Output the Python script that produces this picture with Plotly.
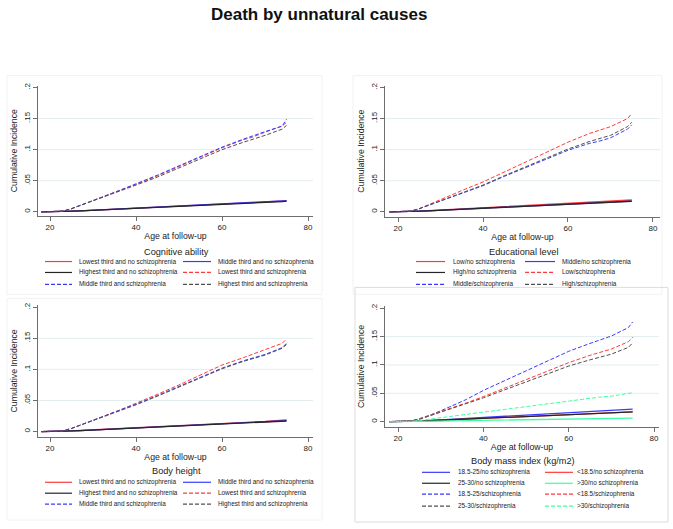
import plotly.graph_objects as go

# ---------------- data ----------------
ages = [18, 21, 23, 25, 27, 30, 33, 36, 40, 45, 50, 55, 60, 65, 67, 70, 74, 75]

# Cognitive ability
cog_low_no = [0, 0, 0.0003, 0.001, 0.0015, 0.0025, 0.0035, 0.0045, 0.006, 0.0075, 0.009, 0.0105, 0.012, 0.0135, 0.014, 0.015, 0.0165, 0.0175]
cog_mid_no = [0, 0, 0.0003, 0.001, 0.0016, 0.0026, 0.0036, 0.0046, 0.006, 0.0076, 0.0091, 0.0106, 0.012, 0.0136, 0.0142, 0.0152, 0.0166, 0.0178]
cog_high_no = [0, 0, 0.0003, 0.001, 0.0015, 0.0024, 0.0034, 0.0044, 0.0058, 0.0073, 0.0088, 0.0103, 0.0118, 0.0133, 0.0139, 0.0148, 0.0163, 0.0172]
cog_low_s = [0, 0, 0.001, 0.005, 0.010, 0.018, 0.026, 0.034, 0.044, 0.058, 0.073, 0.088, 0.103, 0.116, 0.120, 0.128, 0.138, 0.144]
cog_mid_s = [0, 0, 0.001, 0.005, 0.010, 0.018, 0.026, 0.034, 0.045, 0.059, 0.074, 0.089, 0.104, 0.117, 0.122, 0.129, 0.138, 0.149]
cog_high_s = [0, 0, 0.001, 0.005, 0.010, 0.017, 0.025, 0.033, 0.043, 0.056, 0.071, 0.086, 0.100, 0.112, 0.116, 0.123, 0.133, 0.139]

# Educational level
edu_low_no = [0, 0, 0.0003, 0.001, 0.0017, 0.0028, 0.004, 0.005, 0.0066, 0.0083, 0.0099, 0.0115, 0.0131, 0.0147, 0.0155, 0.0165, 0.018, 0.019]
edu_mid_no = [0, 0, 0.0003, 0.001, 0.0015, 0.0025, 0.0036, 0.0046, 0.006, 0.0075, 0.009, 0.0105, 0.012, 0.0134, 0.014, 0.015, 0.0164, 0.0172]
edu_high_no = [0, 0, 0.0003, 0.001, 0.0015, 0.0024, 0.0035, 0.0045, 0.0058, 0.0073, 0.0088, 0.0103, 0.0118, 0.0132, 0.0138, 0.0148, 0.0162, 0.017]
edu_low_s = [0, 0, 0.001, 0.005, 0.011, 0.019, 0.028, 0.037, 0.048, 0.064, 0.080, 0.096, 0.112, 0.126, 0.130, 0.137, 0.150, 0.158]
edu_mid_s = [0, 0, 0.001, 0.005, 0.010, 0.017, 0.025, 0.033, 0.042, 0.057, 0.071, 0.085, 0.099, 0.110, 0.113, 0.119, 0.133, 0.140]
edu_high_s = [0, 0, 0.001, 0.005, 0.010, 0.017, 0.025, 0.033, 0.043, 0.058, 0.072, 0.087, 0.101, 0.113, 0.117, 0.123, 0.137, 0.144]

# Body height
hgt_low_no = [0, 0, 0.0003, 0.001, 0.0017, 0.0028, 0.0039, 0.005, 0.0065, 0.0081, 0.0097, 0.0113, 0.0129, 0.0145, 0.0152, 0.0162, 0.0178, 0.0187]
hgt_mid_no = [0, 0, 0.0003, 0.001, 0.0016, 0.0026, 0.0036, 0.0046, 0.006, 0.0076, 0.0091, 0.0106, 0.012, 0.0135, 0.0141, 0.0151, 0.0166, 0.0175]
hgt_high_no = [0, 0, 0.0003, 0.001, 0.0015, 0.0025, 0.0035, 0.0045, 0.0059, 0.0074, 0.0089, 0.0104, 0.0119, 0.0133, 0.0139, 0.0148, 0.0162, 0.017]
hgt_low_s = [0, 0, 0.001, 0.005, 0.010, 0.018, 0.026, 0.034, 0.045, 0.060, 0.075, 0.091, 0.107, 0.119, 0.124, 0.131, 0.142, 0.149]
hgt_mid_s = [0, 0, 0.001, 0.005, 0.010, 0.018, 0.026, 0.034, 0.044, 0.058, 0.073, 0.088, 0.102, 0.114, 0.118, 0.124, 0.135, 0.142]
hgt_high_s = [0, 0, 0.001, 0.005, 0.010, 0.017, 0.025, 0.033, 0.043, 0.057, 0.072, 0.087, 0.101, 0.113, 0.117, 0.123, 0.134, 0.140]

# Body mass index
bmi_normal_no = [0, 0, 0.0003, 0.001, 0.0018, 0.003, 0.0045, 0.006, 0.0078, 0.0098, 0.0118, 0.0138, 0.0158, 0.0178, 0.0186, 0.0196, 0.021, 0.022]
bmi_under_no = [0, 0, 0.0003, 0.001, 0.0015, 0.0025, 0.0035, 0.0045, 0.0059, 0.0074, 0.0089, 0.0104, 0.0119, 0.0134, 0.014, 0.0149, 0.0163, 0.0172]
bmi_over_no = [0, 0, 0.0003, 0.001, 0.0015, 0.0025, 0.0035, 0.0046, 0.006, 0.0075, 0.009, 0.0105, 0.012, 0.0135, 0.0141, 0.015, 0.0164, 0.0172]
bmi_obese_no = [0, 0, 0.0001, 0.0003, 0.0006, 0.001, 0.0014, 0.0018, 0.0023, 0.003, 0.0036, 0.0042, 0.0048, 0.0053, 0.0055, 0.0057, 0.006, 0.0062]
bmi_normal_s = [0, 0, 0.001, 0.005, 0.010, 0.019, 0.029, 0.039, 0.055, 0.072, 0.089, 0.106, 0.124, 0.138, 0.143, 0.151, 0.166, 0.176]
bmi_under_s = [0, 0, 0.001, 0.005, 0.010, 0.017, 0.025, 0.033, 0.044, 0.059, 0.074, 0.089, 0.104, 0.117, 0.121, 0.128, 0.141, 0.149]
bmi_over_s = [0, 0, 0.001, 0.004, 0.009, 0.016, 0.024, 0.032, 0.042, 0.056, 0.070, 0.084, 0.098, 0.109, 0.113, 0.119, 0.131, 0.139]
bmi_obese_s = [0, 0, 0.0005, 0.002, 0.004, 0.007, 0.009, 0.012, 0.016, 0.021, 0.026, 0.031, 0.037, 0.042, 0.043, 0.045, 0.049, 0.051]

x_tickvals = [20, 40, 60, 80]
y_tickvals = [0, 0.05, 0.1, 0.15, 0.2]
y_ticktext = ["0", ".05", ".1", ".15", ".2"]
grid_vals = [0.05, 0.1, 0.15]

chart_title = "Death by unnatural causes"
x_title = "Age at follow-up"
y_title = "Cumulative Incidence"

cog_labels = ["Lowest third and no schizophrenia", "Middle third and no schizophrenia",
              "Highest third and no schizophrenia", "Lowest third and schizophrenia",
              "Middle third and schizophrenia", "Highest third and schizophrenia"]
edu_labels = ["Low/no schizophrenia", "Middle/no schizophrenia", "High/no schizophrenia",
              "Low/schizophrenia", "Middle/schizophrenia", "High/schizophrenia"]
hgt_labels = cog_labels
bmi_labels = ["18.5-25/no schizophrenia", "<18.5/no schizophrenia", "25-30/no schizophrenia",
              ">30/no schizophrenia", "18.5-25/schizophrenia", "<18.5/schizophrenia",
              "25-30/schizophrenia", ">30/schizophrenia"]

# ---------------- styles / layout ----------------
W, H = 673, 529
FONT = "Arial, Liberation Sans, sans-serif"
RED = "#ff3a3a"
BLUE = "#3a3aff"
BLACK = "#262626"
GRAY = "#505050"
GREEN = "#3dffa0"
DASH = "4px,2px"
AXC = "#6e6e6e"
GRIDC = "#e3edef"
TXT = "#222222"


def fx(px):
    return px / W


def fy(py):
    return 1 - py / H


six_styles = [(RED, "solid", 1.3), (BLUE, "solid", 1.3), (BLACK, "solid", 1.3),
              (RED, "dash", 1.0), (BLUE, "dash", 1.0), (GRAY, "dash", 1.0)]
bmi_styles = [(BLUE, "solid", 1.3), (RED, "solid", 1.3), (BLACK, "solid", 1.3), (GREEN, "solid", 1.3),
              (BLUE, "dash", 1.0), (RED, "dash", 1.0), (GRAY, "dash", 1.0), (GREEN, "dash", 1.0)]

panels = [
    dict(series=[cog_low_no, cog_mid_no, cog_high_no, cog_low_s, cog_mid_s, cog_high_s],
         labels=cog_labels, styles=six_styles, legend_title="Cognitive ability",
         xd=(38, 313), xr=(17.21, 81.16), yd=(83, 214), yr=(-0.0064, 0.2032),
         box=(7, 73, 322, 293), boxc="#f2f2f2",
         ltitle=(176, 250), rows=[260, 271, 283],
         cols=[(45, 72, 77), (183, 211, 216)]),
    dict(series=[edu_low_no, edu_mid_no, edu_high_no, edu_low_s, edu_mid_s, edu_high_s],
         labels=edu_labels, styles=six_styles, legend_title="Educational level",
         xd=(385, 660), xr=(16.94, 81.65), yd=(83, 215), yr=(-0.008, 0.2032),
         box=(353, 73, 662, 293), boxc="#f2f2f2",
         ltitle=(523, 250), rows=[260, 271, 283],
         cols=[(416, 445, 451), (525, 555, 560)]),
    dict(series=[hgt_low_no, hgt_mid_no, hgt_high_no, hgt_low_s, hgt_mid_s, hgt_high_s],
         labels=hgt_labels, styles=six_styles, legend_title="Body height",
         xd=(38, 313), xr=(17.21, 81.16), yd=(304, 436), yr=(-0.008, 0.2032),
         box=(7, 297, 322, 520), boxc="#f2f2f2",
         ltitle=(176, 471), rows=[482, 493, 504],
         cols=[(45, 72, 77), (183, 211, 216)]),
    dict(series=[bmi_normal_no, bmi_under_no, bmi_over_no, bmi_obese_no,
                 bmi_normal_s, bmi_under_s, bmi_over_s, bmi_obese_s],
         labels=bmi_labels, styles=bmi_styles, legend_title="Body mass index (kg/m2)",
         xd=(385, 659), xr=(16.95, 81.17), yd=(305, 426), yr=(-0.00877, 0.2035),
         box=(355, 286, 668, 522), boxc="#dcdcdc",
         ltitle=(523, 461), rows=[472, 483, 494, 506],
         cols=[(422, 450, 456), (545, 573, 575)]),
]

fig = go.Figure()
shapes = []
annotations = []

# title
annotations.append(dict(text="<b>" + chart_title + "</b>", x=fx(319), y=fy(11.5), xref="paper", yref="paper",
                        xanchor="center", yanchor="middle", showarrow=False,
                        font=dict(family=FONT, size=17, color="#111111")))

layout_axes = {}
for i, p in enumerate(panels):
    n = i + 1
    xa = "x" if n == 1 else "x%d" % n
    ya = "y" if n == 1 else "y%d" % n
    # panel frame
    bx0, by0, bx1, by1 = p["box"]
    shapes.append(dict(type="rect", xref="paper", yref="paper", x0=fx(bx0), x1=fx(bx1), y0=fy(by1), y1=fy(by0),
                       line=dict(color=p["boxc"], width=1), fillcolor="rgba(0,0,0,0)", layer="below"))
    # gridlines
    for g in grid_vals:
        shapes.append(dict(type="line", xref=xa + " domain", yref=ya, x0=0, x1=1, y0=g, y1=g,
                           line=dict(color=GRIDC, width=1), layer="below"))
    # traces
    for vals, lab, (c, d, w) in zip(p["series"], p["labels"], p["styles"]):
        fig.add_trace(go.Scatter(x=ages, y=vals, mode="lines", name=lab, showlegend=False,
                                 line=dict(color=c, width=w, dash=(DASH if d == "dash" else "solid")),
                                 xaxis=xa, yaxis=ya, hoverinfo="skip"))
    # axes
    layout_axes["xaxis" if n == 1 else "xaxis%d" % n] = dict(
        domain=[fx(p["xd"][0]), fx(p["xd"][1])], range=list(p["xr"]), anchor=ya,
        tickvals=x_tickvals, ticks="outside", ticklen=4, tickcolor=AXC, tickwidth=1,
        showline=True, linecolor=AXC, linewidth=1, showgrid=False, zeroline=False,
        tickfont=dict(family=FONT, size=8, color=TXT),
        title=dict(text=x_title, font=dict(family=FONT, size=8.7, color=TXT), standoff=1))
    layout_axes["yaxis" if n == 1 else "yaxis%d" % n] = dict(
        domain=[fy(p["yd"][1]), fy(p["yd"][0])], range=list(p["yr"]), anchor=xa,
        tickvals=y_tickvals, ticktext=y_ticktext, tickangle=-90,
        ticks="outside", ticklen=4, tickcolor=AXC, tickwidth=1,
        showline=True, linecolor=AXC, linewidth=1, showgrid=False, zeroline=False,
        tickfont=dict(family=FONT, size=8, color=TXT),
        title=dict(text=y_title, font=dict(family=FONT, size=8.7, color=TXT), standoff=3))
    # legend title
    annotations.append(dict(text=p["legend_title"], x=fx(p["ltitle"][0]), y=fy(p["ltitle"][1]),
                            xref="paper", yref="paper", xanchor="center", yanchor="middle",
                            showarrow=False, font=dict(family=FONT, size=9.2, color=TXT)))
    # legend entries (2 columns, row-wise)
    for k, (lab, (c, d, w)) in enumerate(zip(p["labels"], p["styles"])):
        r, col = divmod(k, 2)
        ry = p["rows"][r]
        k0, k1, tx = p["cols"][col]
        shapes.append(dict(type="line", xref="paper", yref="paper", x0=fx(k0), x1=fx(k1),
                           y0=fy(ry), y1=fy(ry),
                           line=dict(color=c, width=1.2, dash=(DASH if d == "dash" else "solid"))))
        annotations.append(dict(text=lab, x=fx(tx), y=fy(ry), xref="paper", yref="paper",
                                xanchor="left", yanchor="middle", showarrow=False,
                                font=dict(family=FONT, size=6.4, color=TXT)))

fig.update_layout(
    width=W, height=H, margin=dict(l=0, r=0, t=0, b=0),
    paper_bgcolor="white", plot_bgcolor="white",
    showlegend=False, shapes=shapes, annotations=annotations,
    **layout_axes)

fig.write_html("out.html", config={"displayModeBar": False},
               post_script="document.body.style.margin='0';document.body.style.overflow='hidden';")
